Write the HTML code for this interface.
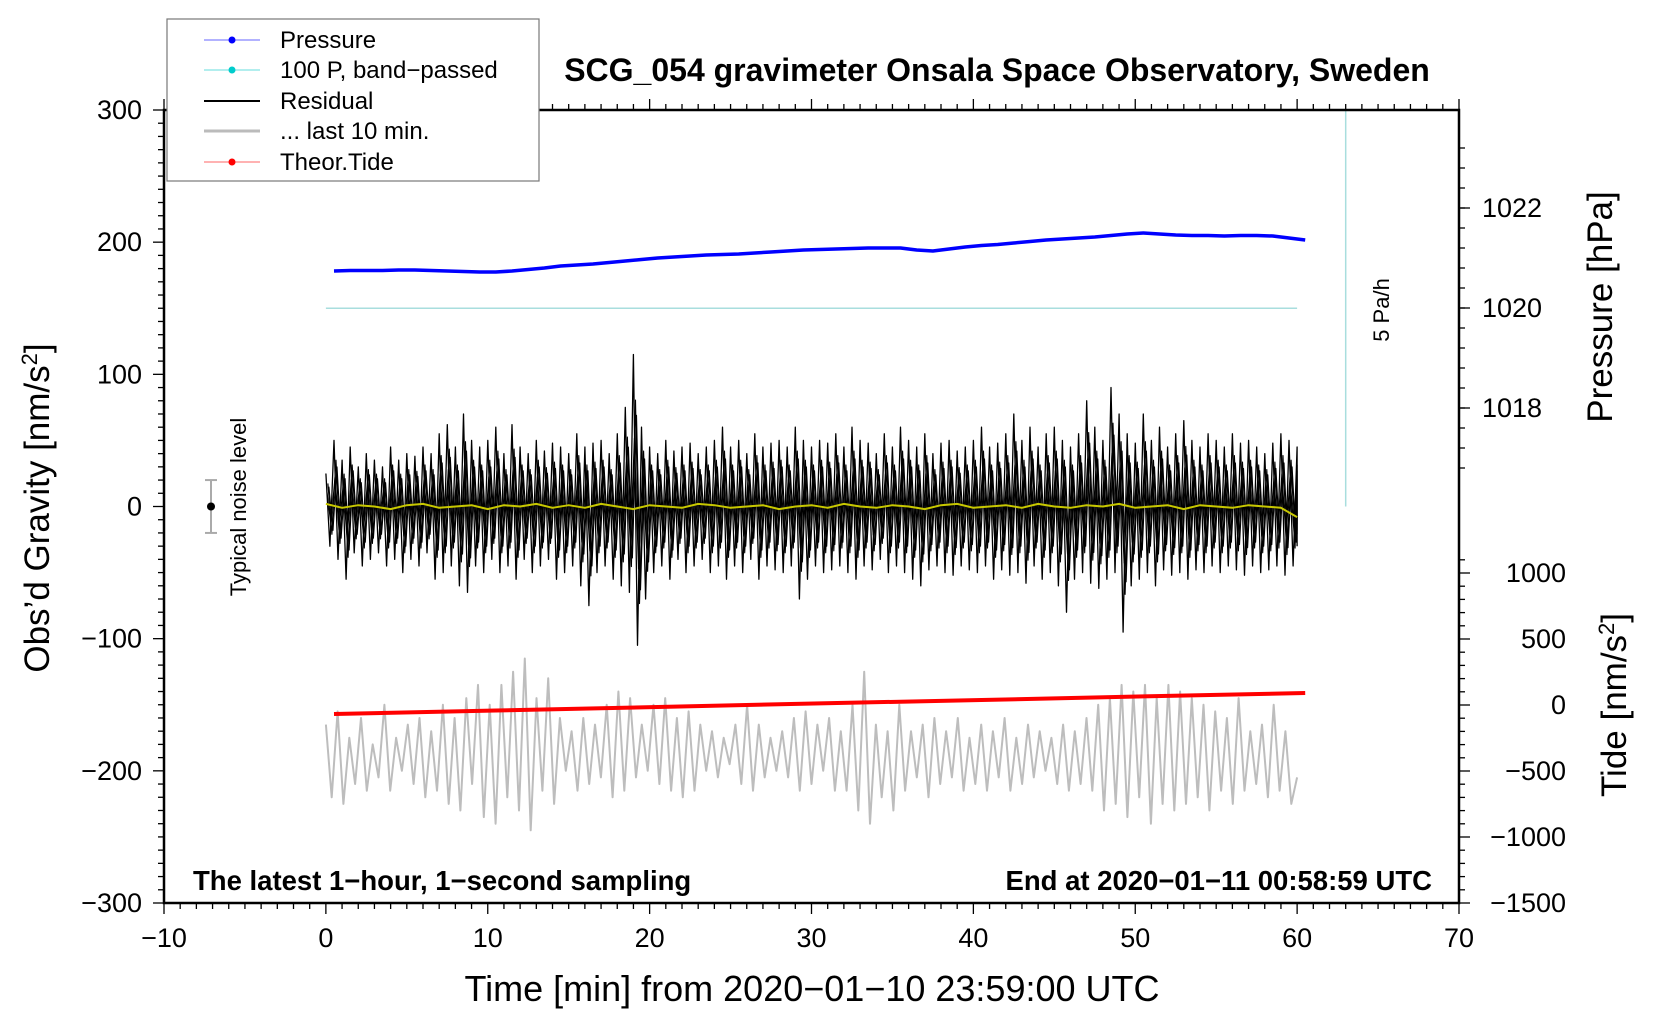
<!DOCTYPE html>
<html><head><meta charset="utf-8"><style>
html,body{margin:0;padding:0;background:#fff;}
svg{display:block;font-family:"Liberation Sans",sans-serif;}
</style></head><body>
<svg id="chart" width="1660" height="1020" viewBox="0 0 1660 1020" xmlns="http://www.w3.org/2000/svg">
<g id="marks"></g>
<g id="axes"></g>
<text x="997" y="81" text-anchor="middle" font-size="32" font-weight="bold">SCG_054 gravimeter Onsala Space Observatory, Sweden</text>
<text transform="translate(49,508) rotate(-90)" text-anchor="middle" font-size="35">Obs’d Gravity [nm/s<tspan baseline-shift="super" font-size="22">2</tspan>]</text>
<text transform="translate(1612,307) rotate(-90)" text-anchor="middle" font-size="35">Pressure [hPa]</text>
<text transform="translate(1626,705) rotate(-90)" text-anchor="middle" font-size="35">Tide [nm/s<tspan baseline-shift="super" font-size="22">2</tspan>]</text>
<text x="812" y="1001" text-anchor="middle" font-size="36">Time [min] from 2020−01−10 23:59:00 UTC</text>
<text x="193" y="890" font-size="27.5" font-weight="bold">The latest 1−hour, 1−second sampling</text>
<text x="1432" y="890" text-anchor="end" font-size="27.5" font-weight="bold">End at 2020−01−11 00:58:59 UTC</text>
<text transform="translate(246,507) rotate(-90)" text-anchor="middle" font-size="22">Typical noise level</text>
<text transform="translate(1389,310) rotate(-90)" text-anchor="middle" font-size="22">5 Pa/h</text>
<g>
<rect x="167" y="19" width="372" height="162" fill="#fff" stroke="#777" stroke-width="1.2"/>
<g><line x1="204" y1="40" x2="260" y2="40" stroke="#66f" stroke-width="1"/><circle cx="232" cy="40" r="3.5" fill="#00f"/><text x="280" y="48" font-size="24">Pressure</text></g>
<g><line x1="204" y1="70" x2="260" y2="70" stroke="#6dd" stroke-width="1"/><circle cx="232" cy="70" r="3.5" fill="#0cc"/><text x="280" y="78" font-size="24">100 P, band−passed</text></g>
<g><line x1="204" y1="101" x2="260" y2="101" stroke="#000" stroke-width="2"/><text x="280" y="109" font-size="24">Residual</text></g>
<g><line x1="204" y1="131" x2="260" y2="131" stroke="#bbb" stroke-width="3"/><text x="280" y="139" font-size="24">... last 10 min.</text></g>
<g><line x1="204" y1="162" x2="260" y2="162" stroke="#f66" stroke-width="1"/><circle cx="232" cy="162" r="3.5" fill="#f00"/><text x="280" y="170" font-size="24">Theor.Tide</text></g>
</g>
</svg>
<script>
const pressure=[1020.74,1020.75,1020.75,1020.75,1020.76,1020.76,1020.75,1020.74,1020.73,1020.72,1020.72,1020.74,1020.77,1020.80,1020.84,1020.86,1020.88,1020.91,1020.94,1020.97,1021.00,1021.02,1021.04,1021.06,1021.07,1021.08,1021.10,1021.12,1021.14,1021.16,1021.17,1021.18,1021.19,1021.20,1021.20,1021.20,1021.16,1021.14,1021.18,1021.22,1021.25,1021.27,1021.30,1021.33,1021.36,1021.38,1021.40,1021.42,1021.45,1021.48,1021.50,1021.48,1021.46,1021.45,1021.45,1021.44,1021.45,1021.45,1021.44,1021.40,1021.36];
const bandPassed=[150,150,150,150,150,150,150];
const residualHi=[25,50,35,45,30,40,35,30,45,35,40,38,45,40,55,62,45,70,50,45,50,60,40,62,45,40,50,42,48,45,40,55,45,48,50,40,55,75,115,60,45,40,50,42,45,48,40,45,50,60,45,50,40,55,45,48,50,45,60,50,45,50,48,55,45,60,50,48,40,55,45,60,50,45,55,40,48,50,42,45,50,60,45,48,55,70,50,60,45,55,60,50,45,55,80,60,50,90,70,55,48,70,50,60,45,55,65,50,45,55,50,45,55,48,50,45,40,48,55,50,45];
const residualLo=[-30,-40,-55,-35,-45,-40,-35,-45,-40,-50,-40,-45,-35,-55,-50,-45,-60,-65,-45,-50,-40,-50,-45,-55,-40,-50,-45,-40,-55,-50,-45,-60,-75,-50,-45,-55,-60,-65,-105,-70,-50,-45,-55,-40,-50,-45,-40,-50,-45,-55,-45,-50,-40,-55,-45,-48,-50,-45,-70,-55,-45,-50,-48,-45,-50,-55,-45,-48,-40,-50,-45,-50,-55,-60,-48,-45,-50,-52,-45,-48,-50,-45,-55,-48,-52,-50,-58,-45,-55,-50,-60,-80,-55,-50,-58,-62,-55,-50,-95,-60,-55,-50,-60,-48,-52,-50,-55,-48,-50,-45,-50,-45,-48,-52,-45,-50,-48,-45,-52,-45,-30];
const filtered=[2,-1,1,0,-2,1,2,-1,0,1,-2,1,0,2,-1,1,-1,2,0,-2,1,0,-1,2,1,-1,0,1,-2,0,1,-1,2,0,-1,1,0,-2,1,2,-1,0,1,-1,2,0,-1,1,0,2,-1,0,1,-2,1,0,-1,1,0,-1,-8];
const lastTen=[-165,-220,-155,-225,-175,-210,-160,-215,-180,-205,-150,-215,-175,-200,-165,-210,-160,-220,-170,-215,-150,-225,-160,-230,-145,-210,-135,-235,-150,-240,-135,-220,-125,-230,-115,-245,-145,-215,-130,-225,-160,-200,-170,-215,-160,-210,-165,-205,-150,-220,-140,-215,-145,-205,-165,-200,-150,-210,-145,-215,-160,-220,-155,-215,-165,-200,-170,-205,-175,-195,-165,-210,-150,-215,-165,-205,-175,-200,-170,-205,-160,-215,-155,-210,-165,-200,-160,-215,-170,-215,-150,-230,-125,-240,-165,-220,-170,-230,-150,-215,-170,-205,-165,-220,-160,-210,-170,-205,-160,-215,-175,-210,-165,-215,-170,-205,-160,-215,-175,-210,-165,-205,-170,-200,-175,-210,-165,-215,-170,-210,-160,-215,-150,-230,-145,-225,-135,-235,-140,-220,-135,-240,-145,-225,-135,-230,-140,-225,-145,-220,-150,-230,-155,-215,-160,-225,-145,-215,-170,-210,-165,-220,-150,-215,-170,-225,-205];
const tide=[-68,-42,-15,12,38,65,91];
const xTicks=[-10,0,10,20,30,40,50,60,70];
const yTicks=[-300,-200,-100,0,100,200,300];
const pTicks=[1018,1020,1022];
const tTicks=[-1500,-1000,-500,0,500,1000];

const NS='http://www.w3.org/2000/svg';
const X0=164,X1=1459,Y0=110,Y1=903;
const xs=t=>X0+(t+10)/80*(X1-X0);
const ys=g=>Y0+(300-g)/600*(Y1-Y0);
const ps=p=>408-(p-1018)*50;
const ts=v=>705-v/500*66;
const marks=document.getElementById('marks'),axes=document.getElementById('axes');
function mk(tag,attrs,parent){const e=document.createElementNS(NS,tag);for(const k in attrs)e.setAttribute(k,attrs[k]);parent.appendChild(e);return e;}
function poly(pts,stroke,w,name){const e=mk('polyline',{points:pts.map(p=>p[0].toFixed(1)+','+p[1].toFixed(1)).join(' '),fill:'none',stroke:stroke,'stroke-width':w,'stroke-linejoin':'round'},marks);


return e;}

poly(lastTen.map((v,i)=>[xs(i*60/(lastTen.length-1)),ys(v)]),'#bdbdbd',2,'last-10-min-line');
// residual: main pass plus two denser inner passes from same data
[[0,1,1.3],[0.125,0.7,1.1],[0.0625,0.45,1.1],[0.1875,0.6,1.1]].forEach(([off,sc,w])=>{
const rp=[];residualHi.forEach((v,i)=>{rp.push([xs(Math.min(60,i*0.5+off)),ys(v*sc)]);if(i<residualLo.length)rp.push([xs(Math.min(60,i*0.5+0.25+off)),ys(residualLo[i]*sc)]);});
poly(rp,'#000',w,'residual-line');});
poly(filtered.map((v,i)=>[xs(i*60/(filtered.length-1)),ys(v)]),'#c8c800',2,'filtered-residual-line');
poly(bandPassed.map((v,i)=>[xs(i*10),ys(v)]),'#a8dede',1.5,'band-passed-line');
poly(pressure.map((v,i)=>[xs(i+0.5),ps(v)]),'#0000ff',3.5,'pressure-line');
poly(tide.map((v,i)=>[xs(0.5+i*10),ts(v)]),'#ff0000',4,'tide-line');
let sb=mk('line',{x1:xs(63),x2:xs(63),y1:Y0,y2:ys(0),stroke:'#a8dede','stroke-width':1.5},marks);


let nb=mk('g',{},marks);


mk('line',{x1:211,x2:211,y1:ys(20),y2:ys(-20),stroke:'#aaa','stroke-width':2},nb);
mk('line',{x1:205,x2:217,y1:ys(20),y2:ys(20),stroke:'#aaa','stroke-width':2},nb);
mk('line',{x1:205,x2:217,y1:ys(-20),y2:ys(-20),stroke:'#aaa','stroke-width':2},nb);
mk('circle',{cx:211,cy:ys(0),r:4,fill:'#000'},nb);

let fr=mk('rect',{x:X0,y:Y0,width:X1-X0,height:Y1-Y0,fill:'none',stroke:'#000','stroke-width':2.5},axes);


for(let t=-10;t<=70;t++){const maj=t%10===0,x=xs(t);
mk('line',{x1:x,x2:x,y1:Y1,y2:Y1+(maj?11:6),stroke:'#000','stroke-width':1.3},axes);
mk('line',{x1:x,x2:x,y1:Y0,y2:Y0-(maj?11:6),stroke:'#000','stroke-width':1.3},axes);}
xTicks.forEach(t=>{const e=mk('text',{x:xs(t),y:947,'text-anchor':'middle','font-size':27},axes);e.textContent=String(t).replace('-','−');

});
for(let g=-300;g<=300;g+=10){const maj=g%100===0,y=ys(g);mk('line',{x1:X0,x2:X0-(maj?11:6),y1:y,y2:y,stroke:'#000','stroke-width':1.3},axes);}
yTicks.forEach(g=>{const e=mk('text',{x:142,y:ys(g)+9,'text-anchor':'end','font-size':27},axes);e.textContent=String(g).replace('-','−');

});
for(let p=1016.8;p<=1023.5;p+=0.4){const y=ps(p);if(y<Y0||y>470)continue;mk('line',{x1:X1,x2:X1+6,y1:y,y2:y,stroke:'#000','stroke-width':1.3},axes);}
pTicks.forEach(p=>{const y=ps(p);mk('line',{x1:X1,x2:X1+11,y1:y,y2:y,stroke:'#000','stroke-width':1.3},axes);
const e=mk('text',{x:1482,y:y+9,'font-size':27},axes);e.textContent=p;

});
for(let v=-1500;v<=1100;v+=100){const y=ts(v);const maj=v%500===0;mk('line',{x1:X1,x2:X1+(maj?11:6),y1:y,y2:y,stroke:'#000','stroke-width':1.3},axes);}
tTicks.forEach(v=>{const e=mk('text',{x:1566,y:ts(v)+9,'text-anchor':'end','font-size':27},axes);e.textContent=String(v).replace('-','−');

});
</script>
</body></html>
